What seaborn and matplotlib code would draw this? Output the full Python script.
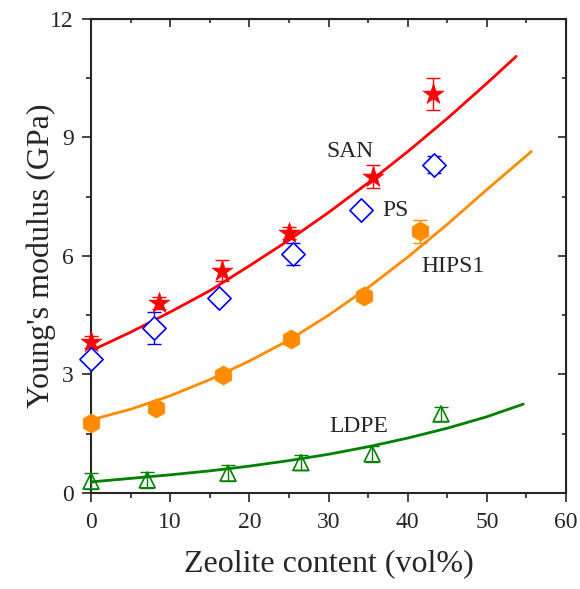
import matplotlib
matplotlib.use("Agg")
import matplotlib.pyplot as plt
from matplotlib.ticker import MultipleLocator
import seaborn as sns

san_x = [0, 8.6, 16.6, 25.0, 35.6, 43.2]
san_y = [3.82, 4.80, 5.63, 6.58, 8.01, 10.1]
san_err = [0.15, 0.15, 0.27, 0.15, 0.28, 0.4]

ps_x = [0, 7.95, 16.2, 25.5, 34.1, 43.3]
ps_y = [3.40, 4.18, 4.93, 6.05, 7.16, 8.31]
ps_err = [0.0, 0.4, 0.0, 0.28, 0.0, 0.22]

hips_x = [0, 8.2, 16.7, 25.2, 34.5, 41.5]
hips_y = [1.78, 2.16, 2.99, 3.90, 4.99, 6.62]
hips_err = [0.0, 0.0, 0.0, 0.0, 0.0, 0.3]

ldpe_x = [0, 7.1, 17.3, 26.5, 35.5, 44.2]
ldpe_y = [0.30, 0.33, 0.50, 0.77, 0.99, 2.0]
ldpe_err = [0.2, 0.2, 0.2, 0.2, 0.2, 0.18]

# Curvas de ajuste
san_fit_x = [0, 5, 10, 15, 20, 25, 30, 35, 40, 45, 50, 53.7]
san_fit_y = [3.6, 4.07, 4.58, 5.12, 5.75, 6.40, 7.10, 7.85, 8.64, 9.48, 10.37, 11.05]

hips_fit_x = [0, 5, 10, 15, 20, 25, 30, 35, 40, 45, 50, 55.6]
hips_fit_y = [1.85, 2.12, 2.46, 2.87, 3.34, 3.87, 4.50, 5.20, 5.97, 6.80, 7.68, 8.64]

ldpe_fit_x = [0, 5, 10, 15, 20, 25, 30, 35, 40, 45, 50, 54.6]
ldpe_fit_y = [0.28, 0.37, 0.46, 0.56, 0.68, 0.82, 0.98, 1.17, 1.39, 1.64, 1.93, 2.25]

sns.set_style("ticks")
plt.rcParams['font.family'] = ['Liberation Serif', 'DejaVu Serif']

fig = plt.figure(figsize=(5.8, 5.89), dpi=100)
ax = fig.add_axes([0.157, 0.163, 0.819, 0.805])

# Curvas
sns.lineplot(x=san_fit_x, y=san_fit_y, color='#ff0000', lw=2, ax=ax)
sns.lineplot(x=hips_fit_x, y=hips_fit_y, color='#ff8c00', lw=2, ax=ax)
sns.lineplot(x=ldpe_fit_x, y=ldpe_fit_y, color='#008000', lw=2, ax=ax)

# Barras de error
for xs, ys, es, c in [(san_x, san_y, san_err, '#ff0000'), (ps_x, ps_y, ps_err, '#0000ff'),
                      (hips_x, hips_y, hips_err, '#ff8c00'), (ldpe_x, ldpe_y, ldpe_err, '#008000')]:
    ax.errorbar(xs, ys, yerr=es, fmt='none', ecolor=c, elinewidth=1, capsize=5, capthick=1,
                clip_on=False, zorder=3)

# Puntos
sns.scatterplot(x=san_x, y=san_y, marker='*', s=250, color='#ff0000', edgecolor='#ff0000',
                linewidth=0.5, ax=ax, clip_on=False, zorder=4)
sns.scatterplot(x=ps_x, y=ps_y, marker='D', s=140, facecolor='white', edgecolor='#0000ff',
                linewidth=1.2, ax=ax, clip_on=False, zorder=4)
sns.scatterplot(x=hips_x, y=hips_y, marker='h', s=190, color='#ff8c00', edgecolor='#ff8c00',
                linewidth=0.5, ax=ax, clip_on=False, zorder=4)
sns.scatterplot(x=ldpe_x, y=ldpe_y, marker='^', s=130, facecolor='none', edgecolor='#008000',
                linewidth=1.2, ax=ax, clip_on=False, zorder=4)

# Etiquetas de series
ax.text(32.7, 8.64, 'SAN', fontsize=17, ha='center', va='center')
ax.text(38.5, 7.15, 'PS', fontsize=17, ha='center', va='center')
ax.text(45.7, 5.73, 'HIPS1', fontsize=17, ha='center', va='center')
ax.text(33.8, 1.68, 'LDPE', fontsize=17, ha='center', va='center')

ax.set_xlim(0, 60)
ax.set_ylim(0, 12)
ax.xaxis.set_major_locator(MultipleLocator(10))
ax.xaxis.set_minor_locator(MultipleLocator(5))
ax.yaxis.set_major_locator(MultipleLocator(3))
ax.yaxis.set_minor_locator(MultipleLocator(1.5))
ax.tick_params(which='both', direction='out', top=False, right=False, labelsize=17, width=1.2)
ax.tick_params(which='major', length=6.5)
ax.tick_params(which='minor', length=3.5)
ax.tick_params(axis='x', pad=7)
ax.tick_params(axis='y', pad=6)

# Ticks internos arriba y a la derecha
ax_top = ax.secondary_xaxis('top')
ax_top.xaxis.set_major_locator(MultipleLocator(10))
ax_top.xaxis.set_minor_locator(MultipleLocator(5))
ax_top.tick_params(which='both', direction='in', labeltop=False, width=1.2)
ax_top.tick_params(which='major', length=6)
ax_top.tick_params(which='minor', length=3)
ax_right = ax.secondary_yaxis('right')
ax_right.yaxis.set_major_locator(MultipleLocator(3))
ax_right.yaxis.set_minor_locator(MultipleLocator(1.5))
ax_right.tick_params(which='both', direction='in', labelright=False, width=1.2)
ax_right.tick_params(which='major', length=6)
ax_right.tick_params(which='minor', length=3)

for sp in ax.spines.values():
    sp.set_linewidth(1.5)
    sp.set_visible(True)

ax.set_xlabel('Zeolite content (vol%)', fontsize=23, labelpad=12)
ax.set_ylabel("Young's modulus (GPa)", fontsize=23, labelpad=-4)

fig.savefig('out.png', dpi=100)
